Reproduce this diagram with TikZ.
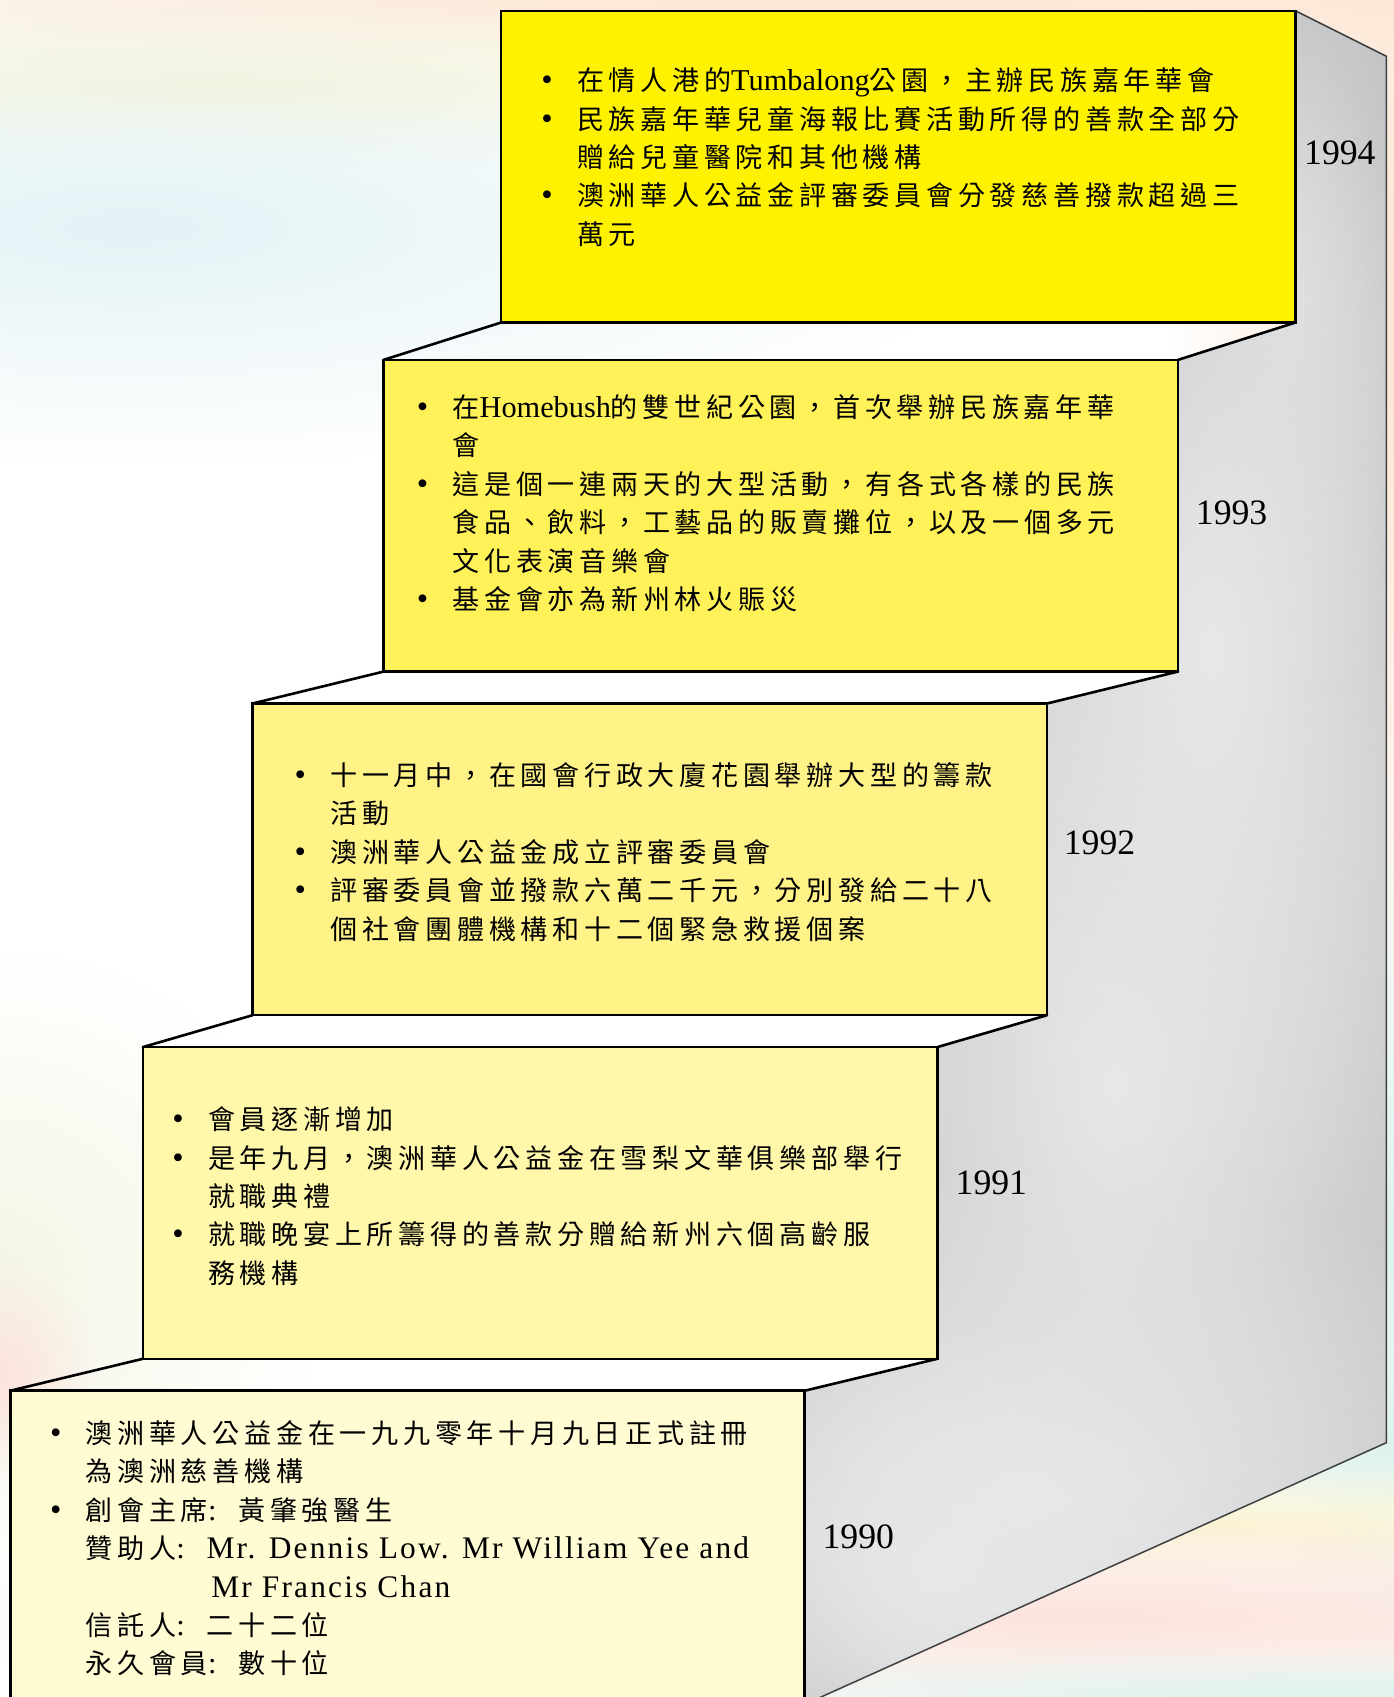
\documentclass[tikz,border=0pt]{standalone}
\usepackage{fontspec}
\setmainfont{Liberation Serif}
\newfontfamily\cjk{Noto Sans CJK TC}[LetterSpace=17.4]
\newfontfamily\latsp{Liberation Serif}[LetterSpace=7]
\usetikzlibrary{fadings}
\definecolor{yA}{HTML}{FFF200}
\definecolor{yB}{HTML}{FFF158}
\definecolor{yC}{HTML}{FFF387}
\definecolor{yD}{HTML}{FFF7A9}
\definecolor{yE}{HTML}{FFFBD3}
\definecolor{gBase}{HTML}{BBBCBE}
\definecolor{gLight}{HTML}{E7E8EA}
\definecolor{bgPeach}{HTML}{FDE6D3}
\definecolor{bgYellow}{HTML}{FBF5D4}
\definecolor{bgCyan}{HTML}{E4F3F6}
\definecolor{bgPink}{HTML}{FCE3DC}
\definecolor{bgMint}{HTML}{DDF3EE}
\definecolor{bgLeft}{HTML}{F5F5E6}
\tikzfading[name=soft, inner color=transparent!0, outer color=transparent!100]
\newcommand\bul{\makebox[33pt][l]{\hspace{0pt}{\rmfamily\fontsize{30}{30}\selectfont •}}}
\newcommand\ind{\hspace*{33pt}}
\newcommand\LN[1]{{\rmfamily\fontsize{28}{35.5}\selectfont #1}}
\newcommand\LS[1]{{\latsp\fontsize{29}{35.5}\selectfont #1}}
\newcommand\CO{\makebox[28pt][l]{\LN{:}}}
\newcommand\fs{\rule{0pt}{25pt}}
\begin{document}
\begin{tikzpicture}[x=1pt,y=-1pt,
  stepbox/.style={draw=black, line width=2.4pt, outer sep=0pt, inner sep=0pt,
    minimum width=734pt, minimum height=288pt},
  tread/.style={line width=2.4pt, line cap=round},
  glow/.style={gLight, path fading=soft},
  txt/.style={anchor=north west, inner sep=0pt, align=left,
    font=\cjk\fontsize{25}{35.5}\selectfont},
  yearlbl/.style={inner sep=0pt, font=\fontsize{33}{33}\selectfont}]
\useasboundingbox (0,0) rectangle (1288,1568);
\clip (0,0) rectangle (1288,1568);
% background
\fill[white] (0,0) rectangle (1288,1568);
\fill[bgPeach, path fading=soft] (800,0) ellipse (1600pt and 70pt);
\fill[bgYellow, path fading=soft] (200,80) ellipse (800pt and 80pt);
\fill[bgCyan, path fading=soft] (120,210) ellipse (800pt and 220pt);
\fill[bgPeach, path fading=soft] (1300,300) ellipse (220pt and 800pt);
\fill[bgMint, path fading=soft] (1300,1150) ellipse (160pt and 420pt);
\fill[bgLeft, path fading=soft] (0,1180) ellipse (300pt and 300pt);
\fill[bgPink, path fading=soft] (0,1270) ellipse (90pt and 100pt);
\fill[bgMint, path fading=soft] (1250,1330) ellipse (500pt and 80pt);
\fill[bgYellow, path fading=soft] (1100,1410) ellipse (900pt and 60pt);
\fill[bgPink, path fading=soft] (1000,1495) ellipse (1100pt and 100pt);
\fill[bgMint, path fading=soft] (1200,1570) ellipse (700pt and 50pt);
% boxes
\node[stepbox, fill=yA] (b94) at (830,154) {};
\node[stepbox, fill=yB] (b93) at (721.5,476.5) {};
\node[stepbox, fill=yC] (b92) at (600.5,794) {};
\node[stepbox, fill=yD] (b91) at (499,1111.5) {};
\node[stepbox, fill=yE, minimum height=300pt] (b90) at (376.5,1435) {};
% gray side
\coordinate (sideTR) at (1281,52);
\coordinate (sideBR) at (1281,1333);
\coordinate (sideBL) at (743,1575);
\begin{scope}
\path[clip] (b94.north east) -- (sideTR) -- (sideBR) -- (sideBL)
  -- (b90.north east) -- (b91.south east) -- (b91.north east) -- (b92.south east)
  -- (b92.north east) -- (b93.south east) -- (b93.north east) -- (b94.south east) -- cycle;
\fill[gBase] (700,0) rectangle (1300,1600);
\fill[glow] (950,1380) ellipse (520pt and 300pt);
\fill[glow] (1030,1000) ellipse (400pt and 700pt);
\fill[glow] (1120,600) ellipse (260pt and 600pt);
\fill[glow, fill opacity=.7] (1195,260) ellipse (150pt and 420pt);
\fill[glow] (870,1450) ellipse (280pt and 240pt);
\end{scope}
\draw[line width=1.4pt, black!75] (b94.north east) -- (sideTR) -- (sideBR) -- (sideBL);
% redraw box borders on top
\foreach \b in {b94,b93,b92,b91,b90}
  \draw[line width=2.4pt] (\b.north west) rectangle (\b.south east);
% treads
\draw[tread] (b93.north west) -- (b94.south west);
\draw[tread] (b93.north east) -- (b94.south east);
\draw[tread] (b92.north west) -- (b93.south west);
\draw[tread] (b92.north east) -- (b93.south east);
\draw[tread] (b91.north west) -- (b92.south west);
\draw[tread] (b91.north east) -- (b92.south east);
\draw[tread] (b90.north west) -- (b91.south west);
\draw[tread] (b90.north east) -- (b91.south east);
% years
\node[yearlbl] (y94) at (1238,141) {1994};
\node[yearlbl] (y93) at (1138,474) {1993};
\node[yearlbl] (y92) at (1016,779) {1992};
\node[yearlbl] (y91) at (916,1093) {1991};
\node[yearlbl] (y90) at (793,1420) {1990};
% texts
\node[txt] (t94) at (500,58.5) {\fs\bul 在情人港的\LN{Tumbalong}公園，主辦民族嘉年華會\\
\bul 民族嘉年華兒童海報比賽活動所得的善款全部分\\
\ind 贈給兒童醫院和其他機構\\
\bul 澳洲華人公益金評審委員會分發慈善撥款超過三\\
\ind 萬元};
\node[txt] (t93) at (385,360.5) {\fs\bul 在\LN{Homebush}的雙世紀公園，首次舉辦民族嘉年華\\
\ind 會\\
\bul 這是個一連兩天的大型活動，有各式各樣的民族\\
\ind 食品、飲料，工藝品的販賣攤位，以及一個多元\\
\ind 文化表演音樂會\\
\bul 基金會亦為新州林火賑災};
\node[txt] (t92) at (272,700.5) {\fs\bul 十一月中，在國會行政大廈花園舉辦大型的籌款\\
\ind 活動\\
\bul 澳洲華人公益金成立評審委員會\\
\bul 評審委員會並撥款六萬二千元，分別發給二十八\\
\ind 個社會團體機構和十二個緊急救援個案};
\node[txt] (t91) at (159,1018.5) {\fs\bul 會員逐漸增加\\
\bul 是年九月，澳洲華人公益金在雪梨文華俱樂部舉行\\
\ind 就職典禮\\
\bul 就職晚宴上所籌得的善款分贈給新州六個高齡服\\
\ind 務機構};
\node[txt] (t90) at (46,1308.5) {\fs\bul 澳洲華人公益金在一九九零年十月九日正式註冊\\
\ind 為澳洲慈善機構\\
\bul 創會主席\CO 黃肇強醫生\\
\ind 贊助人\CO\LS{Mr. Dennis Low. Mr William Yee and}\\
\ind\hspace*{116pt}\LS{Mr Francis Chan}\\
\ind 信託人\CO 二十二位\\
\ind 永久會員\CO 數十位};
\end{tikzpicture}
\end{document}
